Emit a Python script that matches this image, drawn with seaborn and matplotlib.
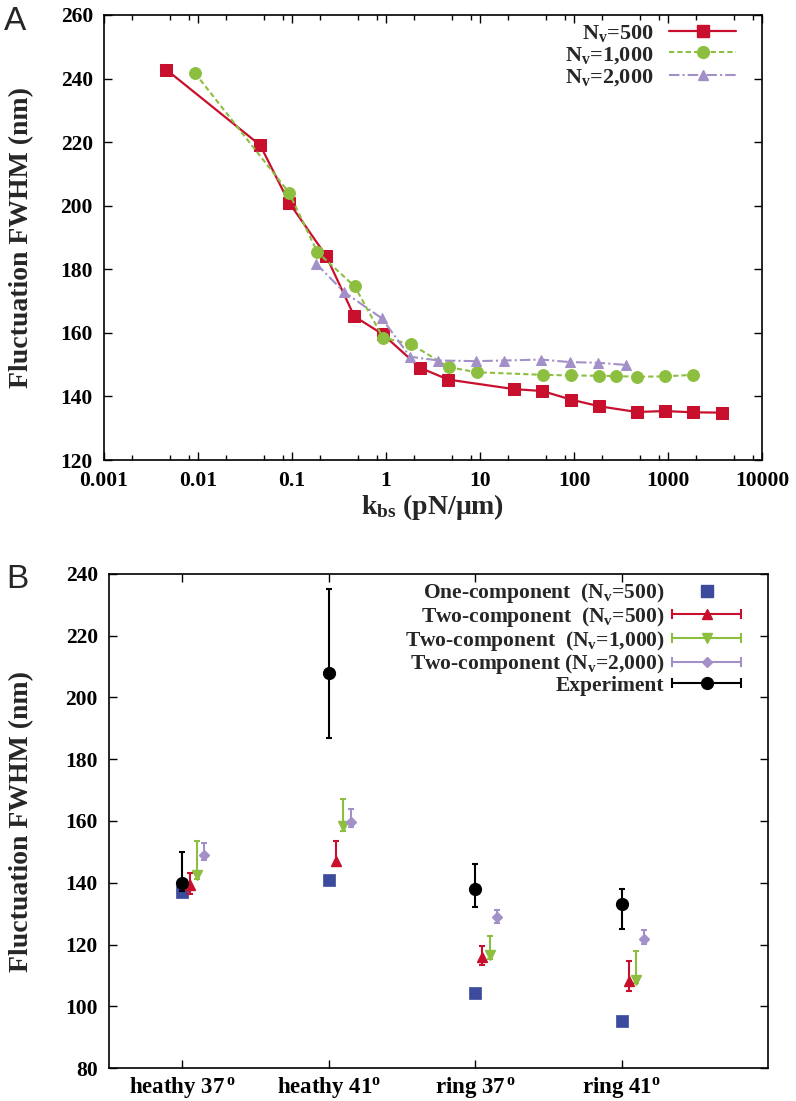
import numpy as np
import matplotlib
matplotlib.use("Agg")
import matplotlib.pyplot as plt
import seaborn as sns
from matplotlib.lines import Line2D
from matplotlib.legend_handler import HandlerLine2D
from matplotlib.ticker import LogLocator, NullFormatter

# %% datos panel A
k_500 = [0.0046, 0.046, 0.093, 0.23, 0.46, 0.93, 2.3, 4.6, 23, 46, 93, 186, 465, 930, 1860, 3720]
fwhm_500 = [242.8, 219.0, 201.0, 184.3, 165.2, 159.5, 149.0, 145.3, 142.3, 141.7, 139.0, 136.9, 135.1, 135.4, 135.0, 134.9]
k_1000 = [0.0093, 0.093, 0.186, 0.465, 0.93, 1.86, 4.65, 9.3, 46.5, 93, 186, 279, 465, 930, 1860]
fwhm_1000 = [241.7, 204.1, 185.4, 174.6, 158.5, 156.4, 149.2, 147.6, 146.8, 146.6, 146.5, 146.4, 146.2, 146.3, 146.8]
k_2000 = [0.18, 0.36, 0.9, 1.8, 3.6, 9.0, 18, 45, 90, 180, 360]
fwhm_2000 = [181.8, 172.8, 164.6, 152.5, 151.3, 151.1, 151.3, 151.6, 150.8, 150.6, 149.9]

k_ticks = [0.001, 0.01, 0.1, 1, 10, 100, 1000, 10000]
k_labels = ["0.001", "0.01", "0.1", "1", "10", "100", "1000", "10000"]

# %% datos panel B
categorias = ["heathy 37$^{\\,\\mathrm{o}}$", "heathy 41$^\\mathrm{o}$",
              "ring 37$^{\\,\\mathrm{o}}$", "ring 41$^\\mathrm{o}$"]
one_500 = [137.0, 141.0, 104.2, 95.1]
two_500 = [139.3, 147.2, 116.1, 108.3]
two_500_lo = [136.4, 145.8, 113.4, 105.0]
two_500_hi = [143.1, 153.6, 119.4, 114.5]
two_1000 = [142.6, 158.4, 116.7, 108.6]
two_1000_lo = [141.3, 156.8, 115.2, 107.5]
two_1000_hi = [153.6, 167.1, 122.6, 117.8]
two_2000 = [149.0, 159.7, 128.8, 121.9]
two_2000_lo = [147.4, 158.0, 127.1, 120.2]
two_2000_hi = [153.0, 163.9, 131.2, 124.8]
experimento = [140.0, 208.0, 138.0, 133.0]
experimento_lo = [137.2, 187.0, 132.0, 125.1]
experimento_hi = [150.0, 235.0, 146.2, 138.0]

rojo = "#c8102e"
verde = "#8cbf3f"
violeta = "#a390c9"
azul = "#3d4b9e"
negro = "black"

sns.set_style("ticks")
plt.rcParams["font.family"] = ["Liberation Serif", "DejaVu Serif"]
plt.rcParams["font.weight"] = "bold"
plt.rcParams["mathtext.fontset"] = "custom"
plt.rcParams["mathtext.rm"] = "Liberation Serif:bold"
plt.rcParams["mathtext.it"] = "Liberation Serif:bold"
plt.rcParams["mathtext.bf"] = "Liberation Serif:bold"

fig = plt.figure(figsize=(7.96, 11.01), dpi=100)
axA = fig.add_axes([104 / 796, 1 - 460 / 1101, 658 / 796, 445 / 1101])
axB = fig.add_axes([109 / 796, 1 - 1068 / 1101, 659 / 796, 494 / 1101])


def estilo_ejes(ax, pad_x):
    for s in ax.spines.values():
        s.set_linewidth(1.2)
        s.set_color("black")
    ax.tick_params(which="both", direction="in", top=True, right=True,
                   labelsize=15.5, width=1.0, colors="black")
    ax.tick_params(which="major", length=6)
    ax.tick_params(which="minor", length=3.5)
    ax.tick_params(axis="y", pad=8)
    ax.tick_params(axis="x", pad=pad_x)
    for lab in ax.get_xticklabels() + ax.get_yticklabels():
        lab.set_fontweight("bold")


# %% panel A
sns.lineplot(x=k_500, y=fwhm_500, ax=axA, color=rojo, marker="s", markersize=8,
             markeredgecolor=rojo, linewidth=1.6)
sns.lineplot(x=k_1000, y=fwhm_1000, ax=axA, color=verde, marker="o", markersize=8.5,
             markeredgecolor=verde, linewidth=1.5, linestyle=(0, (2.5, 1.5)))
sns.lineplot(x=k_2000, y=fwhm_2000, ax=axA, color=violeta, marker="^", markersize=7,
             markeredgecolor=violeta, linewidth=1.5, linestyle=(0, (5, 1.5, 1, 1.5)))

axA.set_xscale("log")
axA.set_xlim(0.001, 10000)
axA.set_ylim(120, 260)
axA.set_yticks(range(120, 261, 20))
axA.set_xticks(k_ticks, k_labels)
axA.xaxis.set_minor_locator(LogLocator(base=10, subs=[2, 5, 8], numticks=20))
axA.xaxis.set_minor_formatter(NullFormatter())
estilo_ejes(axA, 8)
axA.set_xlabel("k$_\\mathrm{bs}$ (pN/μm)", fontsize=20, fontweight="bold")
axA.xaxis.set_label_coords(0.5, -0.072)
axA.set_ylabel("Fluctuation FWHM (nm)", fontsize=20, fontweight="bold")
axA.yaxis.set_label_coords(-0.106, 0.5)

hA = [Line2D([], [], color=rojo, marker="s", markersize=8, markeredgecolor=rojo, lw=1.6),
      Line2D([], [], color=verde, marker="o", markersize=8.5, markeredgecolor=verde, lw=1.5,
             linestyle=(0, (2.5, 1.5))),
      Line2D([], [], color=violeta, marker="^", markersize=7, markeredgecolor=violeta, lw=1.5,
             linestyle=(0, (5, 1.5, 1, 1.5)))]
labA = ["N$_\\mathrm{v}$=500", "N$_\\mathrm{v}$=1,000", "N$_\\mathrm{v}$=2,000"]
axA.legend(hA, labA, loc="upper right", bbox_to_anchor=(0.9605, 0.983), markerfirst=False,
           frameon=False, fontsize=16, handlelength=3.0, handletextpad=0.7,
           labelspacing=0.05, borderpad=0, borderaxespad=0, numpoints=1)

# %% panel B
pos = np.arange(1, len(categorias) + 1)
desp = [0.0, 0.05, 0.10, 0.15]


def asim(v, lo, hi):
    v = np.array(v)
    return [v - np.array(lo), np.array(hi) - v]


sns.scatterplot(x=pos + desp[0], y=one_500, ax=axB, color=azul, marker="s", s=80,
                edgecolor=azul, linewidth=0.5, zorder=3)
axB.errorbar(pos + desp[1], two_500, yerr=asim(two_500, two_500_lo, two_500_hi), fmt="^",
             color=rojo, markersize=7.5, capsize=2.5, elinewidth=1.5, capthick=1.5, zorder=4)
axB.errorbar(pos + desp[2], two_1000, yerr=asim(two_1000, two_1000_lo, two_1000_hi), fmt="v",
             color=verde, markersize=7.5, capsize=2.5, elinewidth=1.5, capthick=1.5, zorder=4)
axB.errorbar(pos + desp[3], two_2000, yerr=asim(two_2000, two_2000_lo, two_2000_hi), fmt="D",
             color=violeta, markersize=5.5, capsize=2.5, elinewidth=1.5, capthick=1.5, zorder=4)
axB.errorbar(pos + desp[0], experimento, yerr=asim(experimento, experimento_lo, experimento_hi),
             fmt="o", color=negro, markersize=8.5, capsize=2.5, elinewidth=1.5, capthick=1.5,
             zorder=5)

axB.set_xlim(0.5, 5.0)
axB.set_ylim(80, 240)
axB.set_yticks(range(80, 241, 20))
axB.set_xticks(pos, categorias)
estilo_ejes(axB, 5)
axB.tick_params(axis="x", labelsize=16.5)
axB.set_xlabel("")
axB.set_ylabel("Fluctuation FWHM (nm)", fontsize=20, fontweight="bold")
axB.yaxis.set_label_coords(-0.114, 0.5)


def con_topes(c):
    return Line2D([], [], color=c, lw=1.5, marker="|", markersize=7, markeredgewidth=1.5)


topes = [con_topes(c) for c in [rojo, verde, violeta, negro]]
marcas = [Line2D([], [], color=rojo, marker="^", markersize=7.5, ls="none"),
          Line2D([], [], color=verde, marker="v", markersize=7.5, ls="none"),
          Line2D([], [], color=violeta, marker="D", markersize=5.5, ls="none"),
          Line2D([], [], color=negro, marker="o", markersize=8.5, ls="none")]
hB = [Line2D([], [], color=azul, marker="s", markersize=8.5, ls="none")]
hB += [(t, m) for t, m in zip(topes, marcas)]
labB = ["One-component  (N$_\\mathrm{v}$=500)", "Two-component  (N$_\\mathrm{v}$=500)",
        "Two-component  (N$_\\mathrm{v}$=1,000)", "Two-component (N$_\\mathrm{v}$=2,000)",
        "Experiment"]
mapa = {t: HandlerLine2D(numpoints=2, marker_pad=0) for t in topes}
axB.legend(hB, labB, loc="upper right", bbox_to_anchor=(0.959, 0.985), markerfirst=False,
           frameon=False, fontsize=15.5, handlelength=3.2, handletextpad=0.35,
           labelspacing=-0.02, borderpad=0, borderaxespad=0, numpoints=1, handler_map=mapa)

fig.text(15 / 796, 1 - 22 / 1101, "A", family="Liberation Sans", fontsize=24,
         fontweight="normal", ha="center", va="center")
fig.text(17 / 796, 1 - 580 / 1101, "B", family="Liberation Sans", fontsize=24,
         fontweight="normal", ha="center", va="center")

fig.savefig("out.png", dpi=100)
